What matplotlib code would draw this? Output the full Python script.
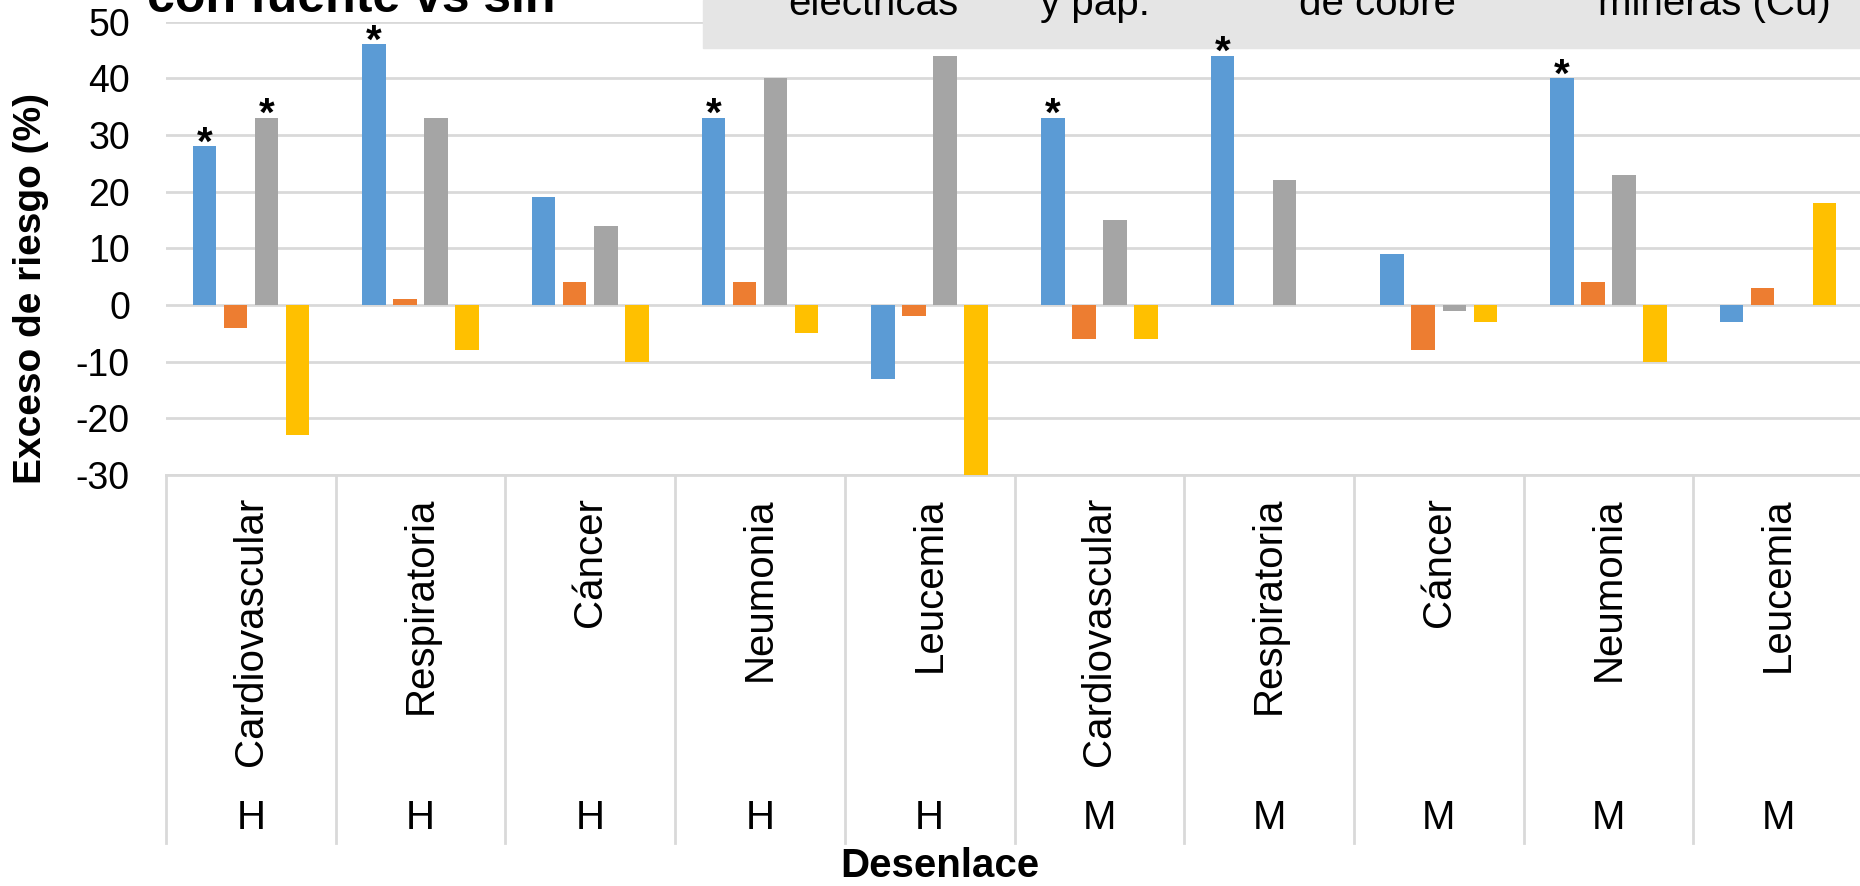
import matplotlib
matplotlib.use("Agg")
import matplotlib.pyplot as plt
from matplotlib.patches import Rectangle
from matplotlib.transforms import offset_copy
import numpy as np

plt.rcParams['font.family'] = ['Liberation Sans', 'DejaVu Sans']
plt.rcParams['axes.unicode_minus'] = False

# Outcomes and sex (H = hombres, M = mujeres)
desenlaces = ['Cardiovascular', 'Respiratoria', 'Cáncer', 'Neumonia', 'Leucemia',
              'Cardiovascular', 'Respiratoria', 'Cáncer', 'Neumonia', 'Leucemia']
sexo = ['H', 'H', 'H', 'H', 'H', 'M', 'M', 'M', 'M', 'M']

# Excess risk (%) for each type of source
termo = [28, 46, 19, 33, -13, 33, 44, 9, 40, -3]
celulosa = [-4, 1, 4, 4, -2, -6, 0, -8, 4, 3]
fundicion = [33, 33, 14, 40, 44, 15, 22, -1, 23, 0]
mineras = [-23, -8, -10, -5, -30, -6, 0, -3, -10, 18]

# significant results (series index, outcome index)
significativos = [(0, 0), (2, 0), (0, 1), (0, 3), (0, 5), (0, 6), (0, 8)]

series = [termo, celulosa, fundicion, mineras]
colores = ['#5B9BD5', '#ED7D31', '#A5A5A5', '#FFC000']
leyenda_x = [788, 1040, 1299, 1598]
leyenda_txt = ['electricas', 'y pap.', 'de cobre', 'mineras (Cu)']

W, H = 1860, 886
fig = plt.figure(figsize=(W / 100, H / 100), dpi=100)
ax = fig.add_axes([166 / W, 1 - 475 / H, 1697 / W, 453.5 / H])

x = np.arange(len(desenlaces))
paso = 0.1827
ancho = 0.1385
for i, (vals, c) in enumerate(zip(series, colores)):
    ax.bar(x + (i - 1.5) * paso, vals, width=ancho, color=c, zorder=3)

ax.set_xlim(-0.5, len(desenlaces) - 0.5)
ax.set_ylim(-30, 50)
ax.set_yticks(range(-30, 51, 10))
ax.tick_params(axis='y', length=0, pad=26, labelsize=27)
ax.set_xticks([])
for sp in ax.spines.values():
    sp.set_visible(False)
ax.yaxis.grid(True, color='#D9D9D9', lw=2)
ax.set_axisbelow(True)
ax.axhline(-30, color='#D9D9D9', lw=2, clip_on=False, zorder=1)

# asterisks go on the figure so they stay above the legend box
tr_star = offset_copy(ax.transData, fig=fig, x=0, y=-6, units='points')
for s, k in significativos:
    v = series[s][k]
    fig.text(x[k] + (s - 1.5) * paso, v, '*', transform=tr_star,
             ha='center', va='baseline', fontsize=29, fontweight='bold',
             zorder=7)

# multi-level category axis
trans = ax.get_xaxis_transform()
y_fin = -0.8115
for k in range(len(desenlaces) + 1):
    ax.plot([k - 0.5, k - 0.5], [0, y_fin], color='#D9D9D9', lw=2,
            transform=trans, clip_on=False)
for k in range(len(desenlaces)):
    ax.text(k, -0.0485, desenlaces[k], rotation=90, ha='center', va='top',
            fontsize=29, transform=trans)
    ax.text(k, -0.756, sexo[k], ha='center', va='center', fontsize=29,
            transform=trans)

fig.text(940 / W, 1 - 866 / H, 'Desenlace', ha='center', va='center',
         fontsize=29, fontweight='bold')
fig.text(31 / W, 1 - 288 / H, 'Exceso de riesgo (%)', rotation=90,
         ha='center', va='center', fontsize=28, fontweight='bold')

# title and legend (top part lies outside the figure)
fig.text(147 / W, 1 - 12 / H, 'con fuente vs sin', ha='left', va='baseline',
         fontsize=36, fontweight='bold')
fig.patches.append(Rectangle((703 / W, 1 - 48 / H), 1 - 703 / W, 48 / H,
                             transform=fig.transFigure, color='#E5E5E5',
                             zorder=5))
for xp, t in zip(leyenda_x, leyenda_txt):
    fig.text(xp / W, 1 - 15 / H, t, ha='left', va='baseline', fontsize=29,
             zorder=6)

fig.savefig('out.png', dpi=100)
